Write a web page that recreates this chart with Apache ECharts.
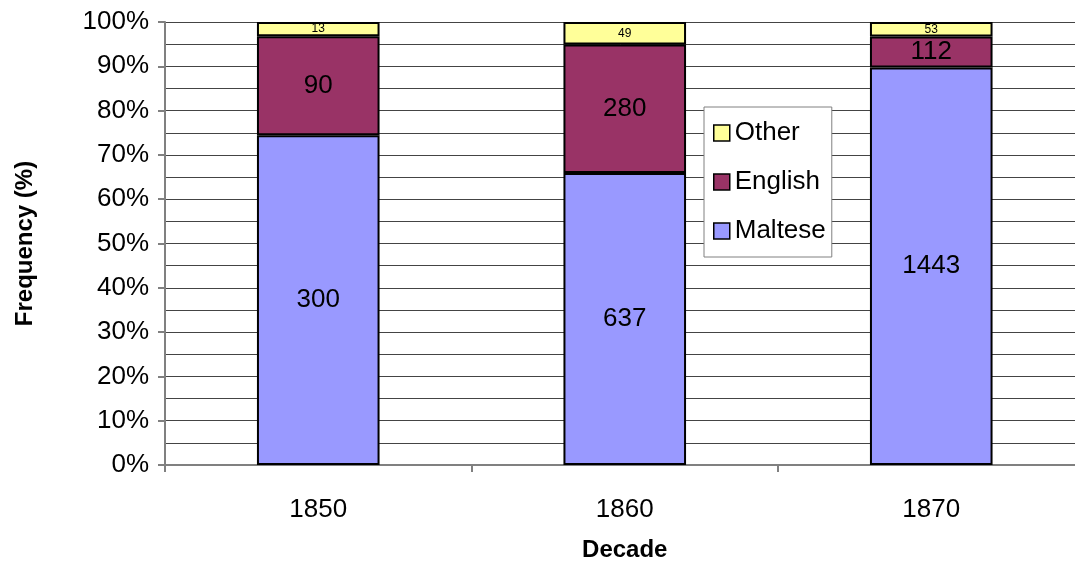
<!DOCTYPE html>
<html>
<head>
<meta charset="utf-8">
<script src="https://cdn.jsdelivr.net/npm/echarts@6/dist/echarts.min.js"></script>
<style>
  html, body { margin: 0; padding: 0; background: #fff; }
  #chart { width: 1075px; height: 564px; }
</style>
</head>
<body>
<div id="chart"></div>
<script>
// Surname origins per decade (counts); bars show each group's share of the decade total.
const decades = ['1850', '1860', '1870'];
const maltese = [300, 637, 1443];
const english = [90, 280, 112];
const other = [13, 49, 53];

const totals = decades.map((_, i) => maltese[i] + english[i] + other[i]);
const toShare = (arr) => arr.map((v, i) => ({ value: v / totals[i] * 100, count: v }));

const FONT = '"Liberation Sans", Arial, sans-serif';

function stackSeries(name, counts, color, labelSize) {
  return {
    name: name,
    type: 'bar',
    stack: 'share',
    barWidth: '40%',
    data: toShare(counts),
    itemStyle: { color: color, borderColor: '#000', borderWidth: 2 },
    label: {
      show: true,
      position: 'inside',
      color: '#000',
      fontFamily: FONT,
      fontSize: labelSize,
      formatter: (p) => String(p.data.count)
    },
    emphasis: { disabled: true }
  };
}

const chart = echarts.init(document.getElementById('chart'), null, { renderer: 'canvas' });
chart.setOption({
  animation: false,
  backgroundColor: '#fff',
  textStyle: { fontFamily: FONT },
  grid: {
    left: 165, top: 22, width: 919.5, height: 443,
    containLabel: false,
    outerBoundsMode: 'none'
  },
  legend: {
    orient: 'vertical',
    left: 704,
    top: 107,
    data: ['Other', 'English', 'Maltese'],
    icon: 'rect',
    backgroundColor: '#fff',
    borderColor: '#808080',
    borderWidth: 1,
    padding: [13, 6, 13, 9],
    itemGap: 23,
    itemWidth: 16,
    itemHeight: 16,
    itemStyle: { borderColor: '#000', borderWidth: 1.5 },
    textStyle: { fontSize: 26, color: '#000', fontFamily: FONT },
    selectedMode: false
  },
  xAxis: {
    type: 'category',
    data: decades,
    name: 'Decade',
    nameLocation: 'middle',
    nameGap: 73,
    nameTextStyle: { fontSize: 24, fontWeight: 'bold', color: '#000', fontFamily: FONT },
    axisLine: { lineStyle: { color: '#808080', width: 2 } },
    axisTick: { show: true, length: 7, lineStyle: { color: '#808080', width: 2 } },
    axisLabel: { fontSize: 26, color: '#000', margin: 32, fontFamily: FONT },
    splitLine: { show: false }
  },
  yAxis: {
    type: 'value',
    min: 0,
    max: 100,
    interval: 10,
    name: 'Frequency (%)',
    nameLocation: 'middle',
    nameGap: 128,
    nameRotate: 90,
    nameTextStyle: { fontSize: 24, fontWeight: 'bold', color: '#000', fontFamily: FONT },
    axisLine: { show: true, lineStyle: { color: '#808080', width: 2 } },
    axisTick: { show: true, length: 7, lineStyle: { color: '#808080', width: 2 } },
    axisLabel: { fontSize: 26, color: '#000', margin: 16, formatter: '{value}%', fontFamily: FONT },
    splitLine: { show: true, lineStyle: { color: '#444', width: 1 } },
    minorTick: { show: false, splitNumber: 2 },
    minorSplitLine: { show: true, lineStyle: { color: '#444', width: 1 } }
  },
  series: [
    stackSeries('Maltese', maltese, '#9999FF', 26),
    stackSeries('English', english, '#993366', 26),
    stackSeries('Other', other, '#FFFF99', 12)
  ]
});
</script>
</body>
</html>
